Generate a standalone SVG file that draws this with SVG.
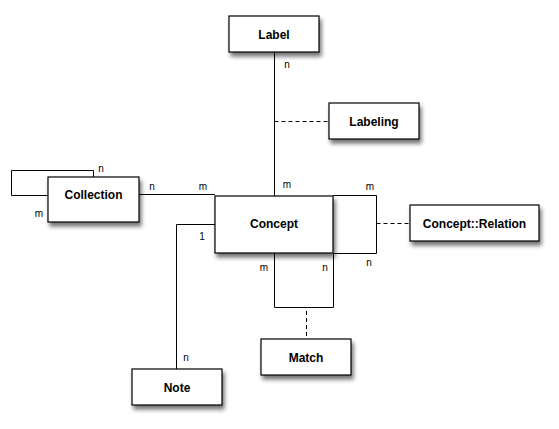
<svg xmlns="http://www.w3.org/2000/svg" width="559" height="429" viewBox="0 0 559 429">
<defs>
<filter id="sh" x="-20%" y="-20%" width="150%" height="160%">
<feDropShadow dx="2" dy="4" stdDeviation="2.2" flood-color="#000" flood-opacity="0.55"/>
</filter>
<style>
.box{fill:#fff;stroke:#000;stroke-width:1.2;filter:url(#sh)}
.t{font-family:"Liberation Sans",Arial,sans-serif;font-weight:bold;font-size:12px;text-anchor:middle;fill:#000}
.c{fill:none;stroke:#000;stroke-width:1}
.d{fill:none;stroke:#000;stroke-width:1;stroke-dasharray:4,3}
.l{font-family:"Liberation Sans",Arial,sans-serif;font-size:10px;fill:#000;text-anchor:middle}
</style>
</defs>
<rect width="559" height="429" fill="#fff"/>
<g id="connectors">
<polyline class="c" points="274.5,52 274.5,196"/>
<line class="d" x1="274.5" y1="121.5" x2="329" y2="121.5"/>
<polyline class="c" points="93.5,177 93.5,170.5 11.5,170.5 11.5,195.5 48,195.5"/>
<line class="c" x1="139" y1="194.5" x2="215" y2="194.5"/>
<polyline class="c" points="333,195.5 376.5,195.5 376.5,253.5 333,253.5"/>
<line class="d" x1="376.5" y1="223.5" x2="410" y2="223.5"/>
<polyline class="c" points="274.5,253 274.5,307.5 333.5,307.5 333.5,253"/>
<line class="d" x1="306.5" y1="311" x2="306.5" y2="339"/>
<polyline class="c" points="176.5,369 176.5,224.5 215,224.5"/>
<text class="l" x="287" y="68">n</text>
<text class="l" x="101" y="172">n</text>
<text class="l" x="39" y="217">m</text>
<text class="l" x="152" y="190">n</text>
<text class="l" x="203" y="190">m</text>
<text class="l" x="287" y="188">m</text>
<text class="l" x="370" y="190">m</text>
<text class="l" x="369" y="266">n</text>
<text class="l" x="264" y="271">m</text>
<text class="l" x="325" y="271">n</text>
<text class="l" x="202" y="240">1</text>
<text class="l" x="186" y="361">n</text>
</g>
<g id="label"><rect class="box" x="229" y="16" width="90" height="36"/><text class="t" x="274" y="38.5">Label</text></g>
<g id="labeling"><rect class="box" x="329" y="103" width="90" height="36"/><text class="t" x="374" y="125.5">Labeling</text></g>
<g id="collection"><rect class="box" x="48" y="177" width="91" height="45"/><text class="t" x="93.5" y="199">Collection</text></g>
<g id="concept"><rect class="box" x="215" y="196" width="118" height="57"/><text class="t" x="274" y="228">Concept</text></g>
<g id="concept-relation"><rect class="box" x="410" y="205" width="129" height="36"/><text class="t" x="474.5" y="227.5">Concept::Relation</text></g>
<g id="match"><rect class="box" x="261" y="339" width="90" height="36"/><text class="t" x="306" y="361.5">Match</text></g>
<g id="note"><rect class="box" x="132" y="369" width="90" height="36"/><text class="t" x="177" y="391.5">Note</text></g>
</svg>
